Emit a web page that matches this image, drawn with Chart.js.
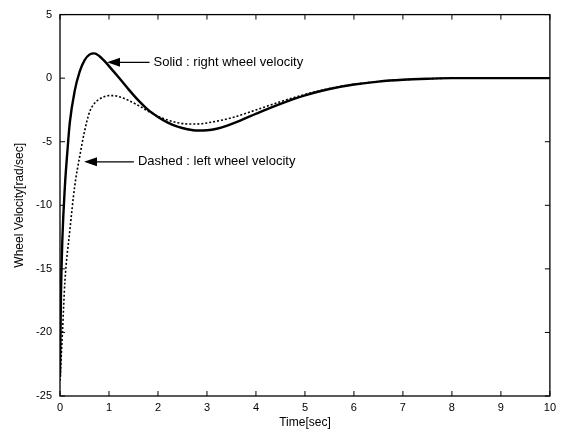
<!DOCTYPE html>
<html>
<head>
<meta charset="utf-8">
<script src="https://cdn.jsdelivr.net/npm/chart.js@4"></script>
<style>
  body { margin: 0; background: #fff; }
  #wrap { width: 561px; height: 434px; }
</style>
</head>
<body>
<div id="wrap"><canvas id="chart" width="561" height="434"></canvas></div>
<script>
// time axis samples (sec)
const timeSolid = [0, 0.02, 0.05, 0.1, 0.15, 0.2, 0.3, 0.4, 0.5, 0.6, 0.7, 0.8, 0.9, 1.0, 1.2, 1.4, 1.6, 1.8, 2.0, 2.2, 2.4, 2.6, 2.8, 3.0, 3.2, 3.4, 3.7, 4.0, 4.5, 5.0, 5.5, 6.0, 6.5, 7.0, 7.5, 8.0, 9.0, 10.0];
const rightVel = [-23.5, -17, -12.5, -8.5, -5.8, -3.5, -1.0, 0.5, 1.4, 1.85, 1.95, 1.75, 1.38, 0.95, 0.05, -0.88, -1.75, -2.5, -3.05, -3.5, -3.82, -4.02, -4.12, -4.1, -3.98, -3.75, -3.3, -2.8, -2.02, -1.35, -0.85, -0.5, -0.27, -0.13, -0.05, 0, 0, 0];
const timeDashed = [0, 0.05, 0.1, 0.2, 0.3, 0.4, 0.5, 0.6, 0.7, 0.8, 0.9, 1.0, 1.1, 1.2, 1.4, 1.6, 1.8, 2.0, 2.2, 2.4, 2.6, 2.8, 3.0, 3.5, 4.0, 4.5, 5.0, 5.5, 6.0, 6.5, 7.0, 7.5, 8.0, 9.0, 10.0];
const leftVel = [-23.8, -20, -16, -12, -8.5, -6.2, -4.2, -2.7, -2.0, -1.66, -1.46, -1.37, -1.37, -1.45, -1.75, -2.15, -2.6, -3.0, -3.3, -3.5, -3.6, -3.6, -3.52, -3.12, -2.5, -1.85, -1.28, -0.82, -0.48, -0.26, -0.12, -0.05, 0, 0, 0];
const xTicks = [0, 1, 2, 3, 4, 5, 6, 7, 8, 9, 10];
const yTicks = [-25, -20, -15, -10, -5, 0, 5];
// annotation text and where the arrow points (data coords)
const notes = [
  {text: "Solid : right wheel velocity", tipX: 0.96, textX: 1.91, y: 1.25},
  {text: "Dashed : left wheel velocity", tipX: 0.49, textX: 1.59, y: -6.58}
];

const toPts = (xs, ys) => xs.map((x, i) => ({x: x, y: ys[i]}));
const fnt = "'Liberation Sans', Arial, sans-serif";

// box + inward ticks on all four sides, plus arrow annotations
const framePlugin = {
  id: "frame",
  afterDraw(chart) {
    const ctx = chart.ctx;
    const a = chart.chartArea;
    const xs = chart.scales.x, ys = chart.scales.y;
    ctx.save();
    ctx.strokeStyle = "#000";
    ctx.lineWidth = 1.3;
    ctx.strokeRect(a.left, a.top, a.right - a.left, a.bottom - a.top);
    ctx.lineWidth = 1;
    ctx.beginPath();
    xTicks.forEach(v => {
      const px = xs.getPixelForValue(v);
      ctx.moveTo(px, a.bottom); ctx.lineTo(px, a.bottom - 5);
      ctx.moveTo(px, a.top); ctx.lineTo(px, a.top + 5);
    });
    yTicks.forEach(v => {
      const py = ys.getPixelForValue(v);
      ctx.moveTo(a.left, py); ctx.lineTo(a.left + 5, py);
      ctx.moveTo(a.right, py); ctx.lineTo(a.right - 5, py);
    });
    ctx.stroke();

    ctx.fillStyle = "#000";
    ctx.font = "13px " + fnt;
    ctx.textBaseline = "middle";
    notes.forEach(n => {
      const tx = xs.getPixelForValue(n.tipX);
      const sx = xs.getPixelForValue(n.textX);
      const py = ys.getPixelForValue(n.y);
      ctx.lineWidth = 1.2;
      ctx.beginPath();
      ctx.moveTo(sx - 4, py); ctx.lineTo(tx + 10, py);
      ctx.stroke();
      ctx.beginPath();
      ctx.moveTo(tx, py);
      ctx.lineTo(tx + 13, py - 4.5);
      ctx.lineTo(tx + 13, py + 4.5);
      ctx.closePath();
      ctx.fill();
      ctx.fillText(n.text, sx, py);
    });
    ctx.restore();
  }
};

new Chart(document.getElementById("chart"), {
  type: "line",
  data: {
    datasets: [
      {
        label: "right wheel",
        data: toPts(timeSolid, rightVel),
        borderColor: "#000",
        borderWidth: 2.4,
        pointRadius: 0,
        cubicInterpolationMode: "monotone"
      },
      {
        label: "left wheel",
        data: toPts(timeDashed, leftVel),
        borderColor: "#000",
        borderWidth: 1.6,
        borderDash: [2, 2],
        pointRadius: 0,
        cubicInterpolationMode: "monotone"
      }
    ]
  },
  options: {
    responsive: false,
    animation: false,
    events: [],
    layout: { padding: { top: 14, right: 10, left: 0, bottom: 0 } },
    plugins: { legend: { display: false }, tooltip: { enabled: false } },
    scales: {
      x: {
        type: "linear",
        min: 0, max: 10,
        afterBuildTicks: s => { s.ticks = xTicks.map(v => ({value: v})); },
        afterFit: s => { s.height = 38; },
        grid: { display: false, drawTicks: false },
        border: { display: false },
        ticks: { color: "#000", padding: 5, font: { family: fnt, size: 11 }, maxRotation: 0 },
        title: { display: true, text: "Time[sec]", color: "#000", font: { family: fnt, size: 12 }, padding: { top: 0, bottom: 4 } }
      },
      y: {
        min: -25, max: 5,
        afterBuildTicks: s => { s.ticks = yTicks.map(v => ({value: v})); },
        afterFit: s => { s.width = 60; },
        grid: { display: false, drawTicks: false },
        border: { display: false },
        ticks: { color: "#000", padding: 8, font: { family: fnt, size: 11 } },
        title: { display: true, text: "Wheel Velocity[rad/sec]", color: "#000", font: { family: fnt, size: 12 }, padding: { top: 12, bottom: 0 } }
      }
    }
  },
  plugins: [framePlugin]
});
</script>
</body>
</html>
